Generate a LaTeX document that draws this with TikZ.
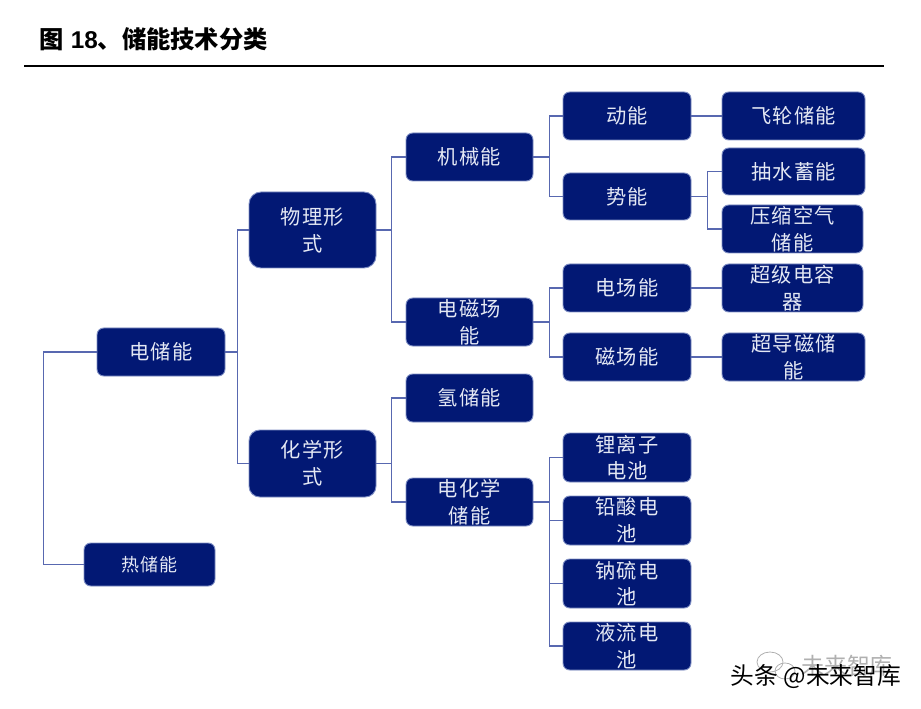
\documentclass[tikz,border=0pt]{standalone}
\usepackage{fontspec}
\setmainfont{Noto Sans CJK SC}
\newfontfamily\boxfont[LetterSpace=6]{Noto Sans CJK SC}
\newfontfamily\latinfont{Liberation Sans}
\definecolor{stboxfill}{HTML}{021874}
\definecolor{stboxedge}{HTML}{7F8FC4}
\definecolor{stline}{HTML}{5868B0}
\definecolor{sttext}{HTML}{E4E8F4}
\definecolor{stghost}{HTML}{B0B0B0}

\begin{document}
\begin{tikzpicture}[x=0.75pt, y=-0.75pt,
    stbox/.style={draw=stboxedge, line width=0.7pt, fill=stboxfill,
                  text=sttext, align=center, inner sep=0pt,
                  font=\boxfont\fontsize{15.2}{20}\selectfont},
    conn/.style={stline, line width=1pt},
    mark text/.style={inner sep=0pt}]

\useasboundingbox (0,0) rectangle (921,709);

% --- heading ---------------------------------------------------------------
\node[anchor=west, inner sep=0pt, font=\bfseries\fontsize{18.2}{20}\selectfont] (title) at (39,39)
  {图\hspace{0.3em}{\latinfont 18}、储能技术分类};
\coordinate (ruleL) at (24,66);
\coordinate (ruleR) at (884,66);
\draw[black, line width=1.5pt] (ruleL) -- (ruleR);

% --- boxes --  name/centre x/centre y/width/height/corner/label --------------
\foreach \name/\cx/\cy/\bw/\bh/\rad/\text in {%
    elec/161/352/128/48/5/{电储能},
    phys/312.5/230/127/76/9/{物理形\\式},
    chem/312.5/463.5/127/67/8/{化学形\\式},
    mech/469.5/157/127/48/5/{机械能},
    emag/469.5/322/127/48/5/{电磁场\\能},
    hydr/469.5/398/127/48/5/{氢储能},
    echem/469.5/502/127/48/5/{电化学\\储能},
    kine/627/116/128/48/5/{动能},
    pote/627/196.5/128/47/5/{势能},
    efield/627/288/128/48/5/{电场能},
    mfield/627/357/128/48/5/{磁场能},
    lith/627/457.5/128/49/5/{锂离子\\电池},
    lead/627/520.5/128/49/5/{铅酸电\\池},
    sodi/627/583.5/128/49/5/{钠硫电\\池},
    flow/627/646/128/48/5/{液流电\\池},
    wheel/793.5/116/143/48/5/{飞轮储能},
    pump/793.5/171.5/143/47/5/{抽水蓄能},
    air/792.5/229/141/48/5/{压缩空气\\储能},
    cap/792.5/288/141/48/5/{超级电容\\器},
    smes/793.5/357/143/48/5/{超导磁储\\能}}
{
  \node[stbox, rounded corners=\rad pt, minimum width=\bw*0.75pt, minimum height=\bh*0.75pt]
    (\name) at (\cx,\cy) {\text};
}
\node[stbox, rounded corners=5pt, minimum width=131*0.75pt, minimum height=43*0.75pt,
      font=\boxfont\fontsize{13.5}{20}\selectfont] (heat) at (149.5,564.5) {热储能};

% --- connectors --  parent/stub length/child ---------------------------------
\foreach \up/\gap/\kid in {%
    elec/12/phys, elec/12/chem,
    phys/15/mech, phys/15/emag,
    chem/15/hydr, chem/15/echem,
    mech/16/kine, mech/16/pote,
    pote/16/pump, pote/16/air,
    emag/16/efield, emag/16/mfield,
    echem/16/lith, echem/16/lead, echem/16/sodi, echem/16/flow,
    kine/16/wheel, efield/16/cap, mfield/16/smes}
{
  \draw[conn] (\up.east) -- ++(\gap,0) |- (\kid.west);
}
\draw[conn] (elec.west) -- ++(-53,0) |- (heat.west);

% --- watermark, grey copy under the black one --------------------------------
\draw[stghost, line width=0.6pt] (770,662) ellipse (13 and 10);
\draw[stghost, line width=0.6pt] (785,671) ellipse (10 and 8);
\node[mark text, text=stghost, font=\fontsize{17.2}{20}\selectfont] (markgrey) at (847,666) {未来智库};
\node[mark text, font=\fontsize{17.8}{20}\selectfont] (mark) at (816,677) {头条 @未来智库};
\end{tikzpicture}
\end{document}
